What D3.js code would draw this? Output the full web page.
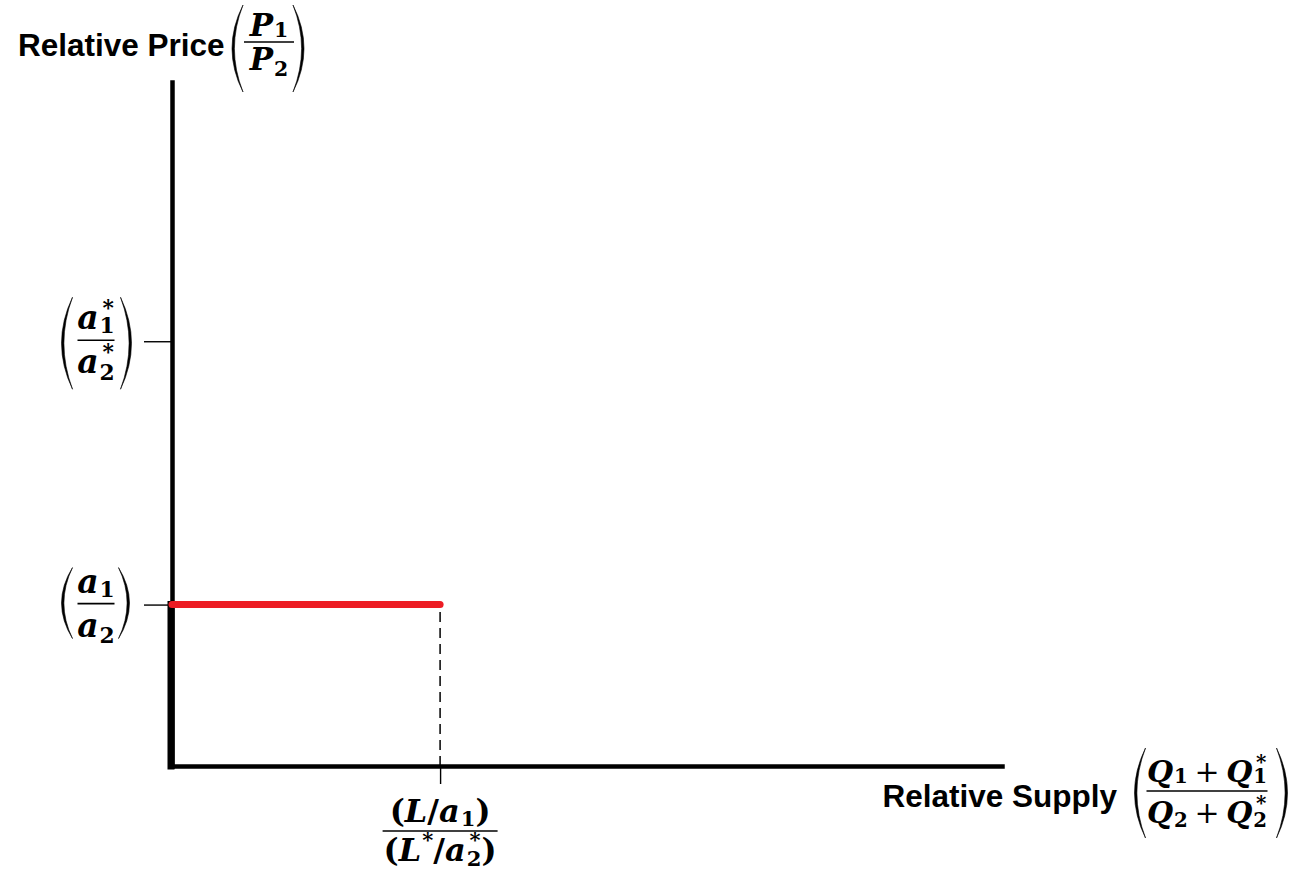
<!DOCTYPE html>
<html><head><meta charset="utf-8">
<script src="https://cdn.jsdelivr.net/npm/d3@7"></script>
<style>
html,body{margin:0;padding:0;background:#fff;}
svg{display:block;}
</style></head>
<body>
<svg id="c" width="1294" height="875"></svg>
<script>
// ---------- data ----------
const yTitle = "Relative Price";
const xTitle = "Relative Supply";
// math tokens: [text, style, subscript, superscript]
const yTitleNum = [["P","it","1"]];
const yTitleDen = [["P","it","2"]];
const xTitleNum = [["Q","it","1"],["+","op"],["Q","it","1","*"]];
const xTitleDen = [["Q","it","2"],["+","op"],["Q","it","2","*"]];
const yTickValues = [23.6, 62.1];
const yTickNums = [[["a","it","1"]], [["a","it","1","*"]]];
const yTickDens = [[["a","it","2"]], [["a","it","2","*"]]];
const xTickValues = [32.3];
const xTickNums = [[["(","rm"],["L","it"],["/","rm"],["a","it","1"],[")","rm"]]];
const xTickDens = [[["(","rm"],["L","it",null,"*"],["/","rm"],["a","it","2","*"],[")","rm"]]];
const supplyFlat = [[0, 23.6], [32.3, 23.6]];
const supplyVertical = [[0, 0], [0, 23.6]];
const dashedDrop = [[32.3, 0], [32.3, 23.6]];

// ---------- setup ----------
const svg = d3.select("#c");
const x = d3.scaleLinear().domain([0, 100]).range([172, 1002]);
const y = d3.scaleLinear().domain([0, 100]).range([766, 82]);
const MATHFONT = "'DejaVu Serif', 'Liberation Serif', serif";
const SANS = "'Liberation Sans', Arial, sans-serif";

function measure(t, fs, weight, style) {
  const m = svg.append("text").attr("font-family", MATHFONT).attr("font-size", fs)
    .attr("font-weight", weight).attr("font-style", style)
    .style("white-space", "pre").text(t);
  const w = m.node().getComputedTextLength();
  m.remove();
  return w;
}

// builds one <text> with positioned tspans; returns width
function mathExpr(g, tokens, fs, o) {
  const subFs = fs * 0.66;
  const txt = g.append("text").attr("font-family", MATHFONT).attr("font-size", fs)
    .attr("font-weight", "bold").style("white-space", "pre");
  let cx = 0;
  tokens.forEach(tok => {
    const [t, st, sub, sup] = tok;
    if (st === "op") {
      cx += fs * 0.22;
      const w = measure(t, fs, "normal", "normal");
      txt.append("tspan").attr("x", cx).attr("y", 0).attr("font-weight", "normal").text(t);
      cx += w + fs * 0.22;
      return;
    }
    const style = st === "it" ? "italic" : "normal";
    const w = measure(t, fs, "bold", style);
    txt.append("tspan").attr("x", cx).attr("y", 0).attr("font-style", style).text(t);
    cx += w;
    const subY = fs * o.sub, supY = -fs * o.sup;
    if (sub && sup) {
      const sw = measure(sub, subFs, "bold", "normal");
      const pw = measure(sup, subFs, "bold", "normal");
      txt.append("tspan").attr("x", `${cx + 1} ${cx + 1 + (sw - pw) / 2 + 1}`)
        .attr("y", `${subY} ${supY}`)
        .attr("font-size", subFs).attr("font-style", "normal").text(sub + sup);
      cx += Math.max(sw, pw) + 1;
    } else if (sub) {
      txt.append("tspan").attr("x", cx + 1).attr("y", subY)
        .attr("font-size", subFs).attr("font-style", "normal").text(sub);
      cx += measure(sub, subFs, "bold", "normal") + 1;
    } else if (sup) {
      txt.append("tspan").attr("x", cx + 1).attr("y", supY)
        .attr("font-size", subFs).attr("font-style", "normal").text(sup);
      cx += measure(sup, subFs, "bold", "normal") + 1;
    }
  });
  return cx;
}

function paren(g, xEdge, top, bottom, dir) {
  const w = 11, th = 2.4;
  const endX = xEdge - dir * w;
  const mid = (top + bottom) / 2;
  const cOuter = 2 * xEdge - endX;
  const cInner = 2 * (xEdge - dir * th) - endX;
  g.append("path")
    .attr("d", `M${endX},${top} Q${cOuter},${mid} ${endX},${bottom} Q${cInner},${mid} ${endX},${top}Z`)
    .attr("fill", "#000").attr("stroke", "#000").attr("stroke-width", 0.6);
}

function fraction(cx, barY, num, den, opt) {
  const fs = opt.fs;
  const g = svg.append("g");
  const gn = g.append("g");
  const wn = mathExpr(gn, num, fs, {sub: opt.subN, sup: opt.sup});
  const gd = g.append("g");
  const wd = mathExpr(gd, den, fs, {sub: opt.subD, sup: opt.sup});
  gn.attr("transform", `translate(${cx - wn / 2},${barY - opt.numGap})`);
  gd.attr("transform", `translate(${cx - wd / 2},${barY + opt.denGap})`);
  const bw = opt.barW;
  g.append("line").attr("x1", cx - bw / 2).attr("x2", cx + bw / 2)
    .attr("y1", barY).attr("y2", barY).attr("stroke", "#000").attr("stroke-width", 1.6);
  if (opt.parens) {
    const [l, r, t, b] = opt.parens;
    paren(g, cx - bw / 2 - l, barY - t, barY + b, -1);
    paren(g, cx + bw / 2 + r, barY - t, barY + b, 1);
  }
  return g;
}

// ---------- axes ----------
const yAxis = d3.axisLeft(y).tickValues(yTickValues).tickSize(28).tickSizeOuter(0).tickFormat("");
const gy = svg.append("g").attr("transform", `translate(${x(0)},0)`).call(yAxis);
gy.select(".domain").attr("stroke", "#000").attr("stroke-width", 4.5).attr("stroke-linecap", "square");
gy.selectAll(".tick line").attr("stroke", "#000").attr("stroke-width", 1.4);

const xAxis = d3.axisBottom(x).tickValues(xTickValues).tickSize(18).tickSizeOuter(0).tickFormat("");
const gx = svg.append("g").attr("transform", `translate(0,${y(0)})`).call(xAxis);
gx.select(".domain").attr("stroke", "#000").attr("stroke-width", 4.5).attr("stroke-linecap", "square");
gx.selectAll(".tick line").attr("stroke", "#000").attr("stroke-width", 1.4);

// ---------- marks ----------
const line = d3.line().x(d => x(d[0])).y(d => y(d[1]));
svg.append("path").datum(dashedDrop).attr("d", line)
  .attr("fill", "none").attr("stroke", "#000").attr("stroke-width", 1.5)
  .attr("stroke-dasharray", "10,6");
svg.append("path").datum(supplyVertical).attr("d", line)
  .attr("fill", "none").attr("stroke", "#000").attr("stroke-width", 7)
  .attr("stroke-linecap", "square").attr("transform", "translate(-1,0)");
svg.append("path").datum(supplyFlat).attr("d", line)
  .attr("fill", "none").attr("stroke", "#ed1c24").attr("stroke-width", 7)
  .attr("stroke-linecap", "round");

// ---------- labels ----------
svg.append("text").attr("x", 18).attr("y", 56).attr("font-family", SANS)
  .attr("font-weight", "bold").attr("font-size", 31.5).text(yTitle);
fraction(269, 42, yTitleNum, yTitleDen, {fs: 31, numGap: 6, denGap: 28, subN: 0.02, subD: 0.18, sup: 0.45, barW: 50, parens: [12, 10, 37, 50]});

svg.append("text").attr("x", 1117).attr("y", 807).attr("font-family", SANS)
  .attr("font-weight", "bold").attr("font-size", 31.5).attr("text-anchor", "end").text(xTitle);
fraction(1207, 791, xTitleNum, xTitleDen, {fs: 30, numGap: 9, denGap: 32, subN: 0.02, subD: 0.12, sup: 0.45, barW: 121, parens: [12, 20, 43, 47]});

const yParens = [[16, 15, 36, 35], [16, 17, 43, 49]];
yTickValues.forEach((v, i) => {
  fraction(96, y(v) - 1, yTickNums[i], yTickDens[i], {fs: 33, numGap: 11, denGap: 33, subN: 0.12, subD: 0.2, sup: 0.42, barW: 37, parens: yParens[i]});
});
xTickValues.forEach((v, i) => {
  fraction(x(v), 831, xTickNums[i], xTickDens[i], {fs: 32, numGap: 9, denGap: 30, subN: 0.12, subD: 0.15, sup: 0.45, barW: 115});
});
</script>
</body></html>
